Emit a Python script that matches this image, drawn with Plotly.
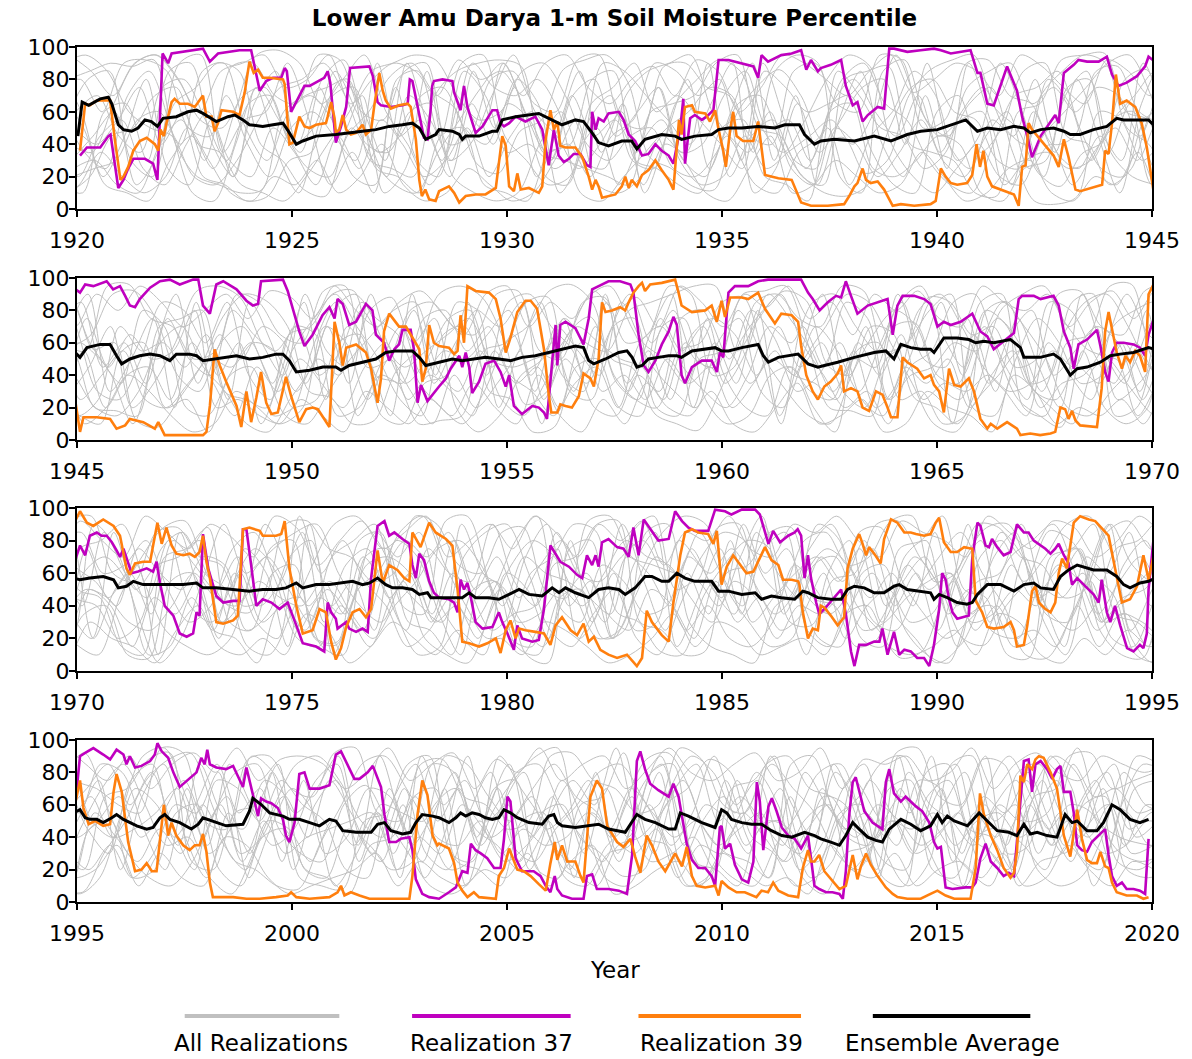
import plotly.graph_objects as go

FONT = "DejaVu Sans"
title_text = "Lower Amu Darya 1-m Soil Moisture Percentile"
x_title = "Year"
legend_labels = ["All Realizations", "Realization 37", "Realization 39", "Ensemble Average"]
panel_starts = [1920, 1945, 1970, 1995]
panel_span = 25
y_tick_vals = [0, 20, 40, 60, 80, 100]

COL_GRAY = "#c0c0c0"
COL_R37 = "#bf00bf"
COL_R39 = "#ff7f0e"
COL_ENS = "#000000"

# ---------------- Realization 37 (decimal year, percentile) ----------------
r37 = [(1920.07,33),(1920.23,38),(1920.54,38),(1920.73,45),(1920.78,46),(1920.96,13),(1921.08,18),(1921.19,25),(1921.31,31),(1921.58,31),(1921.77,28),(1921.87,18),(1921.99,96),(1922.12,90),(1922.2,96),(1922.47,97),(1922.93,99),(1923.09,91),(1923.28,96),(1923.78,98),(1924.05,98),(1924.25,73),(1924.4,79),(1924.56,81),(1924.75,81),(1924.83,87),(1924.88,85),(1924.98,60),(1925.14,68),(1925.29,76),(1925.41,76),(1925.6,79),(1925.75,81),(1925.83,85),(1925.89,78),(1926.02,41),(1926.14,51),(1926.26,63),(1926.35,87),(1926.8,88),(1926.88,82),(1926.99,66),(1927.07,64),(1927.3,63),(1927.57,64),(1927.69,65),(1927.74,80),(1927.8,79),(1928.07,44),(1928.15,43),(1928.22,60),(1928.26,76),(1928.3,79),(1928.5,80),(1928.73,79),(1928.77,72),(1928.92,61),(1929.0,76),(1929.08,63),(1929.27,47),(1929.43,51),(1929.66,61),(1929.77,61),(1929.85,53),(1929.93,51),(1930.05,53),(1930.2,57),(1930.43,54),(1930.66,57),(1930.82,49),(1930.97,27),(1931.09,49),(1931.2,33),(1931.32,29),(1931.44,31),(1931.55,34),(1931.71,34),(1931.86,27),(1931.94,26),(1931.98,60),(1932.06,49),(1932.13,56),(1932.25,54),(1932.36,59),(1932.6,60),(1932.71,55),(1932.83,46),(1932.98,42),(1933.14,33),(1933.29,34),(1933.45,40),(1933.6,36),(1933.76,33),(1933.87,28),(1934.03,50),(1934.1,68),(1934.14,28),(1934.26,56),(1934.37,58),(1934.53,55),(1934.64,57),(1934.8,61),(1934.92,92),(1935.15,92),(1935.46,90),(1935.73,88),(1935.84,81),(1935.92,95),(1936.07,91),(1936.38,95),(1936.62,96),(1936.84,98),(1936.96,86),(1937.07,92),(1937.23,85),(1937.3,87),(1937.53,89),(1937.77,92),(1937.88,76),(1938.04,64),(1938.15,66),(1938.27,54),(1938.39,58),(1938.62,63),(1938.77,62),(1938.89,99),(1939.0,99),(1939.31,97),(1939.62,98),(1939.93,99),(1940.09,98),(1940.32,96),(1940.78,98),(1940.86,91),(1940.94,84),(1941.01,84),(1941.17,65),(1941.32,64),(1941.63,88),(1941.86,73),(1941.98,57),(1942.1,45),(1942.21,32),(1942.41,45),(1942.64,54),(1942.75,58),(1942.83,53),(1942.95,84),(1943.18,89),(1943.29,92),(1943.49,91),(1943.76,91),(1943.95,94),(1944.07,83),(1944.22,76),(1944.41,78),(1944.65,82),(1944.84,88),(1944.92,94),
(1945.07,91),(1945.19,96),(1945.38,95),(1945.69,98),(1945.84,93),(1946.0,95),(1946.12,89),(1946.23,83),(1946.35,82),(1946.46,87),(1946.7,94),(1946.93,98),(1947.16,99),(1947.39,96),(1947.7,99),(1947.82,99),(1947.93,83),(1948.09,78),(1948.24,96),(1948.4,98),(1948.71,93),(1948.94,86),(1949.09,83),(1949.21,84),(1949.28,98),(1949.79,99),(1949.9,92),(1950.02,81),(1950.17,67),(1950.29,58),(1950.48,65),(1950.71,77),(1950.87,82),(1950.99,75),(1951.06,87),(1951.18,84),(1951.33,71),(1951.49,73),(1951.72,84),(1951.87,80),(1951.95,65),(1952.14,60),(1952.26,49),(1952.38,56),(1952.49,59),(1952.57,68),(1952.76,68),(1952.84,55),(1952.92,23),(1953.0,34),(1953.15,24),(1953.42,33),(1953.58,38),(1953.69,44),(1953.89,52),(1953.96,45),(1954.04,54),(1954.12,45),(1954.19,29),(1954.35,36),(1954.5,47),(1954.7,49),(1954.85,42),(1954.97,33),(1955.05,40),(1955.16,21),(1955.35,16),(1955.59,21),(1955.74,20),(1955.86,17),(1955.93,13),(1956.05,48),(1956.13,71),(1956.17,46),(1956.24,71),(1956.36,73),(1956.59,69),(1956.78,59),(1956.9,75),(1956.98,93),(1957.13,95),(1957.36,98),(1957.63,98),(1957.87,96),(1957.94,91),(1958.06,65),(1958.18,46),(1958.29,42),(1958.45,49),(1958.6,59),(1958.76,67),(1958.87,76),(1958.95,71),(1959.06,40),(1959.14,35),(1959.3,45),(1959.53,49),(1959.76,49),(1959.88,42),(1959.95,54),(1960.03,51),(1960.11,77),(1960.15,91),(1960.3,95),(1960.61,95),(1960.84,98),(1961.07,99),(1961.84,99),(1962.0,91),(1962.11,87),(1962.27,80),(1962.46,85),(1962.65,89),(1962.77,88),(1962.88,98),(1963.0,89),(1963.15,78),(1963.39,83),(1963.62,85),(1963.85,87),(1963.97,65),(1964.08,83),(1964.2,89),(1964.47,89),(1964.7,87),(1964.85,84),(1965.01,70),(1965.16,73),(1965.32,71),(1965.55,73),(1965.82,78),(1966.01,67),(1966.17,64),(1966.32,56),(1966.55,61),(1966.71,64),(1966.79,66),(1966.9,87),(1966.98,89),(1967.25,89),(1967.41,87),(1967.71,89),(1967.83,83),(1967.95,67),(1968.1,57),(1968.18,44),(1968.29,59),(1968.49,62),(1968.72,68),(1968.8,58),(1968.91,42),(1968.99,36),(1969.07,54),(1969.18,60),(1969.34,60),(1969.57,59),(1969.72,57),(1969.84,52),(1969.92,65),
(1970.07,77),(1970.19,71),(1970.3,83),(1970.46,85),(1970.57,83),(1970.69,83),(1970.81,79),(1970.92,74),(1971.0,70),(1971.08,75),(1971.19,67),(1971.27,60),(1971.42,61),(1971.62,63),(1971.77,61),(1971.85,67),(1971.93,54),(1972.04,40),(1972.24,34),(1972.39,23),(1972.55,21),(1972.7,23),(1972.78,36),(1972.85,34),(1972.93,84),(1973.05,63),(1973.24,46),(1973.4,42),(1973.63,43),(1973.78,43),(1973.86,87),(1973.94,87),(1974.05,65),(1974.17,40),(1974.32,44),(1974.52,42),(1974.71,38),(1974.9,42),(1975.1,28),(1975.25,17),(1975.56,15),(1975.75,12),(1975.83,42),(1975.91,36),(1976.02,32),(1976.06,26),(1976.26,30),(1976.33,26),(1976.49,24),(1976.64,26),(1976.76,24),(1976.84,57),(1976.99,89),(1977.15,92),(1977.26,83),(1977.38,85),(1977.57,81),(1977.73,78),(1977.8,65),(1977.88,57),(1977.96,72),(1978.07,68),(1978.19,55),(1978.3,48),(1978.42,45),(1978.65,44),(1978.77,42),(1978.85,36),(1978.92,56),(1979.0,50),(1979.08,54),(1979.16,45),(1979.27,30),(1979.43,26),(1979.66,27),(1979.81,36),(1979.89,30),(1980.01,23),(1980.16,13),(1980.24,28),(1980.35,20),(1980.59,18),(1980.74,19),(1980.86,38),(1981.01,77),(1981.13,72),(1981.24,67),(1981.44,64),(1981.63,59),(1981.75,57),(1981.86,71),(1981.98,65),(1982.06,71),(1982.13,64),(1982.21,79),(1982.36,81),(1982.56,76),(1982.71,75),(1982.83,70),(1982.94,88),(1983.06,71),(1983.18,93),(1983.33,87),(1983.52,80),(1983.76,81),(1983.91,98),(1984.07,92),(1984.22,88),(1984.37,86),(1984.68,86),(1984.84,99),(1985.07,98),(1985.22,96),(1985.46,99),(1985.77,99),(1985.88,96),(1986.08,78),(1986.19,86),(1986.35,79),(1986.54,83),(1986.69,85),(1986.76,87),(1986.84,83),(1986.92,57),(1987.0,71),(1987.07,57),(1987.19,42),(1987.26,35),(1987.38,38),(1987.57,44),(1987.77,50),(1987.88,35),(1988.0,12),(1988.08,3),(1988.19,16),(1988.35,16),(1988.54,18),(1988.66,18),(1988.73,26),(1988.85,10),(1989.0,24),(1989.12,10),(1989.24,13),(1989.39,12),(1989.54,8),(1989.7,8),(1989.82,3),(1989.93,16),(1990.05,38),(1990.12,60),(1990.2,56),(1990.28,44),(1990.36,36),(1990.47,32),(1990.74,34),(1990.82,69),(1990.94,91),(1991.01,89),(1991.13,77),(1991.21,76),(1991.28,81),(1991.4,76),(1991.55,71),(1991.71,73),(1991.86,90),(1992.02,85),(1992.13,85),(1992.25,80),(1992.37,78),(1992.52,75),(1992.64,72),(1992.75,75),(1992.83,78),(1992.95,71),(1993.06,66),(1993.14,53),(1993.26,57),(1993.41,53),(1993.64,47),(1993.76,42),(1993.83,56),(1993.95,36),(1994.03,30),(1994.14,40),(1994.26,28),(1994.42,14),(1994.57,12),(1994.72,16),(1994.8,14),(1994.88,23),(1994.92,50),
(1995.07,90),(1995.19,92),(1995.38,95),(1995.61,91),(1995.77,88),(1995.92,94),(1996.08,91),(1996.15,85),(1996.23,90),(1996.35,83),(1996.5,84),(1996.7,87),(1996.81,91),(1996.87,98),(1996.97,93),(1997.12,89),(1997.24,80),(1997.39,71),(1997.62,76),(1997.78,80),(1997.89,89),(1997.97,85),(1998.03,94),(1998.09,85),(1998.24,83),(1998.47,82),(1998.63,84),(1998.78,76),(1998.86,71),(1998.94,83),(1999.05,70),(1999.13,62),(1999.21,53),(1999.28,64),(1999.4,62),(1999.52,61),(1999.67,58),(1999.79,51),(1999.86,41),(1999.94,37),(2000.06,49),(2000.17,79),(2000.29,80),(2000.41,70),(2000.64,70),(2000.87,72),(2001.02,91),(2001.14,93),(2001.26,86),(2001.45,76),(2001.57,76),(2001.76,80),(2001.88,84),(2001.96,79),(2002.07,71),(2002.15,54),(2002.26,37),(2002.42,37),(2002.53,39),(2002.73,40),(2002.8,32),(2002.88,14),(2003.03,5),(2003.19,3),(2003.42,2),(2003.65,6),(2003.81,9),(2003.96,19),(2004.08,18),(2004.16,36),(2004.27,32),(2004.39,30),(2004.54,27),(2004.7,21),(2004.85,21),(2004.93,39),(2005.01,65),(2005.08,62),(2005.2,27),(2005.35,19),(2005.62,19),(2005.78,16),(2005.9,10),(2006.01,6),(2006.11,16),(2006.17,8),(2006.28,4),(2006.51,2),(2006.78,2),(2006.86,16),(2006.98,17),(2007.09,8),(2007.36,8),(2007.6,7),(2007.79,5),(2007.91,29),(2008.02,87),(2008.1,93),(2008.21,82),(2008.33,73),(2008.52,69),(2008.76,65),(2008.87,73),(2008.99,65),(2009.07,52),(2009.18,36),(2009.3,26),(2009.45,21),(2009.61,21),(2009.76,16),(2009.84,10),(2009.95,46),(2009.99,47),(2010.07,33),(2010.19,36),(2010.3,23),(2010.46,14),(2010.61,12),(2010.73,25),(2010.81,74),(2010.88,62),(2010.96,32),(2011.08,59),(2011.16,64),(2011.27,56),(2011.39,46),(2011.54,41),(2011.69,39),(2011.84,33),(2012.0,41),(2012.07,27),(2012.15,10),(2012.26,8),(2012.42,6),(2012.57,6),(2012.73,5),(2012.81,2),(2012.88,19),(2012.96,54),(2013.04,74),(2013.11,77),(2013.19,68),(2013.31,56),(2013.5,49),(2013.73,45),(2013.81,74),(2013.89,82),(2014.0,67),(2014.16,62),(2014.27,65),(2014.39,62),(2014.51,59),(2014.66,56),(2014.82,49),(2014.93,37),(2015.01,33),(2015.09,34),(2015.2,9),(2015.36,8),(2015.67,9),(2015.82,9),(2015.9,12),(2016.01,27),(2016.13,36),(2016.25,25),(2016.4,21),(2016.55,16),(2016.67,18),(2016.79,16),(2016.86,37),(2016.94,64),(2017.02,87),(2017.13,88),(2017.21,68),(2017.29,85),(2017.41,87),(2017.56,82),(2017.68,76),(2017.79,82),(2017.87,84),(2017.95,68),(2018.1,68),(2018.18,55),(2018.26,35),(2018.37,32),(2018.49,31),(2018.6,37),(2018.76,41),(2018.91,45),(2018.99,29),(2019.07,16),(2019.18,10),(2019.3,12),(2019.41,8),(2019.57,8),(2019.72,7),(2019.84,5),(2019.92,39)]

# ---------------- Realization 39 ----------------
r39 = [(1920.07,36),(1920.19,65),(1920.3,64),(1920.46,67),(1920.69,67),(1920.77,67),(1920.88,43),(1920.96,26),(1921.01,18),(1921.08,20),(1921.19,26),(1921.31,36),(1921.46,42),(1921.62,44),(1921.81,40),(1921.89,36),(1921.94,49),(1922.02,45),(1922.08,53),(1922.2,66),(1922.27,68),(1922.39,65),(1922.58,65),(1922.74,63),(1922.93,70),(1923.01,57),(1923.13,57),(1923.2,48),(1923.28,53),(1923.36,61),(1923.63,60),(1923.78,58),(1923.9,72),(1924.01,91),(1924.11,84),(1924.21,86),(1924.32,81),(1924.48,81),(1924.79,80),(1924.83,77),(1924.94,40),(1925.02,41),(1925.1,50),(1925.17,57),(1925.29,51),(1925.41,50),(1925.56,52),(1925.79,53),(1925.83,57),(1925.91,66),(1925.99,56),(1926.02,47),(1926.1,49),(1926.18,58),(1926.26,49),(1926.37,46),(1926.49,47),(1926.57,50),(1926.64,52),(1926.72,46),(1926.84,49),(1926.91,63),(1927.03,84),(1927.11,73),(1927.18,67),(1927.3,62),(1927.49,64),(1927.69,65),(1927.76,63),(1927.88,43),(1927.96,18),(1928.02,8),(1928.1,12),(1928.19,6),(1928.34,5),(1928.42,11),(1928.65,14),(1928.77,10),(1928.89,4),(1929.04,8),(1929.27,9),(1929.5,9),(1929.74,13),(1929.81,28),(1929.89,45),(1929.97,39),(1930.05,14),(1930.16,11),(1930.24,22),(1930.32,12),(1930.51,13),(1930.74,10),(1930.82,14),(1930.9,43),(1931.01,61),(1931.09,49),(1931.17,54),(1931.24,39),(1931.36,38),(1931.59,38),(1931.75,32),(1931.9,20),(1931.98,12),(1932.06,18),(1932.13,14),(1932.21,7),(1932.36,8),(1932.52,9),(1932.67,14),(1932.75,20),(1932.83,13),(1932.9,18),(1933.02,14),(1933.14,21),(1933.29,24),(1933.45,30),(1933.6,24),(1933.76,18),(1933.87,12),(1933.95,38),(1934.0,55),(1934.06,46),(1934.14,63),(1934.3,64),(1934.37,60),(1934.61,59),(1934.72,54),(1934.84,61),(1934.92,49),(1935.03,36),(1935.09,26),(1935.19,49),(1935.26,60),(1935.34,45),(1935.49,42),(1935.73,42),(1935.84,54),(1936.0,21),(1936.31,19),(1936.62,18),(1936.68,14),(1936.84,4),(1937.07,2),(1937.46,2),(1937.84,3),(1937.96,8),(1938.08,14),(1938.15,16),(1938.27,25),(1938.35,18),(1938.46,16),(1938.62,17),(1938.77,12),(1938.89,6),(1938.97,2),(1939.16,3),(1939.47,2),(1939.85,3),(1939.97,5),(1940.09,25),(1940.2,20),(1940.32,16),(1940.47,15),(1940.7,16),(1940.82,21),(1940.92,40),(1941.0,26),(1941.08,36),(1941.17,20),(1941.28,14),(1941.48,12),(1941.79,9),(1941.9,2),(1941.98,26),(1942.06,27),(1942.13,53),(1942.21,49),(1942.33,45),(1942.52,39),(1942.71,33),(1942.83,26),(1942.95,43),(1943.06,32),(1943.22,12),(1943.33,11),(1943.56,13),(1943.84,15),(1943.91,36),(1943.99,34),(1944.07,53),(1944.16,83),(1944.26,65),(1944.41,67),(1944.61,63),(1944.76,53),(1944.88,38),(1944.94,28),
(1945.07,5),(1945.15,14),(1945.46,14),(1945.77,13),(1945.92,7),(1946.12,9),(1946.23,13),(1946.54,11),(1946.81,7),(1946.89,11),(1947.04,3),(1947.39,3),(1947.93,3),(1948.01,5),(1948.09,21),(1948.2,56),(1948.32,46),(1948.47,36),(1948.71,21),(1948.82,8),(1948.94,30),(1949.05,11),(1949.17,26),(1949.28,42),(1949.4,23),(1949.52,16),(1949.67,17),(1949.86,39),(1949.98,27),(1950.17,11),(1950.33,19),(1950.48,20),(1950.6,19),(1950.75,13),(1950.87,8),(1950.99,73),(1951.1,60),(1951.18,46),(1951.26,57),(1951.49,59),(1951.72,54),(1951.84,44),(1951.99,23),(1952.07,38),(1952.14,67),(1952.26,78),(1952.49,70),(1952.65,70),(1952.8,63),(1952.96,56),(1953.03,36),(1953.11,44),(1953.19,71),(1953.3,60),(1953.42,58),(1953.65,57),(1953.77,53),(1953.85,55),(1953.92,77),(1954.0,60),(1954.08,95),(1954.27,92),(1954.58,91),(1954.74,87),(1954.85,75),(1954.97,54),(1955.08,63),(1955.24,79),(1955.43,86),(1955.55,86),(1955.7,81),(1955.86,56),(1955.97,28),(1956.03,17),(1956.17,17),(1956.24,22),(1956.36,21),(1956.51,20),(1956.67,27),(1956.78,41),(1956.94,38),(1957.02,33),(1957.13,50),(1957.21,85),(1957.29,79),(1957.44,80),(1957.63,82),(1957.75,80),(1957.83,85),(1957.94,91),(1958.06,95),(1958.14,97),(1958.21,92),(1958.33,96),(1958.6,97),(1958.91,99),(1958.99,91),(1959.06,83),(1959.3,79),(1959.61,80),(1959.76,83),(1959.88,73),(1959.99,86),(1960.07,76),(1960.19,88),(1960.46,88),(1960.61,87),(1960.84,91),(1961.0,81),(1961.23,72),(1961.38,78),(1961.62,77),(1961.77,73),(1961.84,58),(1961.96,40),(1962.11,30),(1962.23,25),(1962.38,33),(1962.53,36),(1962.69,41),(1962.77,46),(1962.84,30),(1963.0,32),(1963.15,30),(1963.27,20),(1963.42,18),(1963.58,30),(1963.73,28),(1963.85,20),(1963.93,14),(1964.08,14),(1964.2,51),(1964.31,48),(1964.54,44),(1964.7,38),(1964.85,40),(1964.93,34),(1965.05,30),(1965.16,17),(1965.28,44),(1965.4,34),(1965.55,33),(1965.74,38),(1965.86,30),(1966.01,13),(1966.17,7),(1966.25,10),(1966.4,7),(1966.63,11),(1966.86,7),(1966.94,3),(1967.17,4),(1967.4,3),(1967.64,4),(1967.75,5),(1967.87,20),(1967.98,19),(1968.06,13),(1968.14,18),(1968.22,12),(1968.33,9),(1968.72,8),(1968.83,32),(1968.91,67),(1968.99,79),(1969.11,63),(1969.18,54),(1969.3,44),(1969.38,52),(1969.49,48),(1969.61,55),(1969.72,52),(1969.84,42),(1969.92,90),
(1970.07,98),(1970.23,91),(1970.38,89),(1970.61,93),(1970.85,89),(1971.0,83),(1971.15,63),(1971.23,59),(1971.35,66),(1971.54,67),(1971.7,67),(1971.77,77),(1971.87,91),(1971.97,78),(1972.08,88),(1972.2,77),(1972.31,72),(1972.47,71),(1972.62,72),(1972.74,70),(1972.85,73),(1972.93,83),(1973.01,67),(1973.09,57),(1973.24,30),(1973.4,29),(1973.63,31),(1973.74,34),(1973.86,87),(1974.01,88),(1974.25,86),(1974.32,83),(1974.63,83),(1974.75,84),(1974.83,92),(1974.94,63),(1975.1,40),(1975.25,23),(1975.48,25),(1975.64,38),(1975.79,36),(1975.91,18),(1976.02,7),(1976.14,14),(1976.26,27),(1976.41,36),(1976.57,38),(1976.72,33),(1976.84,38),(1976.99,74),(1977.11,54),(1977.26,65),(1977.45,62),(1977.61,57),(1977.73,55),(1977.8,85),(1977.99,76),(1978.19,91),(1978.34,85),(1978.58,81),(1978.73,77),(1978.85,50),(1978.96,18),(1979.12,17),(1979.35,15),(1979.54,17),(1979.74,20),(1979.85,11),(1979.97,25),(1980.08,31),(1980.2,20),(1980.28,26),(1980.43,25),(1980.66,24),(1980.86,23),(1981.01,16),(1981.13,28),(1981.28,33),(1981.48,25),(1981.63,22),(1981.78,29),(1981.9,18),(1982.02,21),(1982.17,13),(1982.36,10),(1982.56,8),(1982.79,10),(1983.02,3),(1983.14,8),(1983.25,37),(1983.37,30),(1983.6,22),(1983.76,18),(1983.87,42),(1984.03,71),(1984.14,85),(1984.3,87),(1984.45,85),(1984.68,84),(1984.8,78),(1984.88,86),(1984.99,53),(1985.11,64),(1985.26,71),(1985.42,65),(1985.57,60),(1985.73,61),(1985.88,69),(1986.0,76),(1986.15,68),(1986.31,65),(1986.42,56),(1986.62,56),(1986.77,55),(1986.8,53),(1986.88,36),(1987.0,20),(1987.11,26),(1987.23,25),(1987.3,40),(1987.38,39),(1987.53,34),(1987.69,28),(1987.84,33),(1987.92,63),(1988.04,75),(1988.19,84),(1988.27,78),(1988.35,71),(1988.42,76),(1988.54,72),(1988.69,66),(1988.77,81),(1988.93,93),(1989.08,91),(1989.24,85),(1989.39,85),(1989.51,84),(1989.7,83),(1989.85,84),(1989.97,91),(1990.05,94),(1990.16,79),(1990.32,73),(1990.47,73),(1990.63,76),(1990.82,75),(1990.9,43),(1991.05,36),(1991.17,27),(1991.32,26),(1991.55,27),(1991.71,30),(1991.79,25),(1991.86,15),(1992.02,16),(1992.1,28),(1992.21,49),(1992.29,52),(1992.37,42),(1992.52,38),(1992.64,36),(1992.75,42),(1992.83,60),(1992.91,69),(1993.02,63),(1993.18,91),(1993.33,95),(1993.53,93),(1993.68,92),(1993.84,87),(1993.99,83),(1994.14,63),(1994.3,42),(1994.49,44),(1994.65,52),(1994.8,71),(1994.92,56),
(1995.07,75),(1995.15,58),(1995.27,48),(1995.42,50),(1995.61,47),(1995.77,48),(1995.85,68),(1995.92,79),(1996.04,68),(1996.19,37),(1996.35,19),(1996.5,20),(1996.62,24),(1996.74,19),(1996.85,19),(1996.93,39),(1997.02,60),(1997.12,41),(1997.2,49),(1997.31,41),(1997.47,35),(1997.62,32),(1997.74,35),(1997.85,35),(1997.93,42),(1998.01,31),(1998.09,12),(1998.16,3),(1998.63,3),(1998.94,2),(1999.25,2),(1999.63,3),(1999.9,4),(1999.98,6),(2000.1,3),(2000.41,2),(2000.87,3),(2001.06,6),(2001.14,10),(2001.22,4),(2001.37,6),(2001.57,4),(2001.8,2),(2002.73,2),(2002.8,16),(2002.92,54),(2003.03,75),(2003.15,66),(2003.27,41),(2003.38,35),(2003.42,36),(2003.65,33),(2003.77,24),(2003.85,12),(2003.96,7),(2004.08,3),(2004.23,6),(2004.35,3),(2004.74,2),(2004.81,16),(2004.93,21),(2005.05,33),(2005.12,28),(2005.24,20),(2005.39,19),(2005.55,16),(2005.74,11),(2005.9,7),(2006.01,24),(2006.11,37),(2006.17,26),(2006.28,35),(2006.4,25),(2006.59,25),(2006.71,16),(2006.78,12),(2006.86,39),(2006.94,65),(2007.09,75),(2007.21,70),(2007.33,47),(2007.4,44),(2007.56,37),(2007.71,34),(2007.87,39),(2007.98,28),(2008.1,18),(2008.25,41),(2008.37,35),(2008.52,25),(2008.68,19),(2008.91,30),(2009.07,22),(2009.18,34),(2009.3,16),(2009.41,10),(2009.61,9),(2009.84,10),(2009.92,4),(2009.99,13),(2010.15,9),(2010.34,6),(2010.53,6),(2010.8,3),(2010.92,7),(2011.07,6),(2011.19,12),(2011.31,7),(2011.54,4),(2011.77,3),(2011.88,21),(2012.0,32),(2012.07,25),(2012.15,25),(2012.26,29),(2012.38,19),(2012.53,14),(2012.73,8),(2012.88,10),(2013.04,29),(2013.15,14),(2013.23,22),(2013.35,30),(2013.46,23),(2013.62,16),(2013.81,9),(2013.97,5),(2014.08,3),(2014.31,2),(2014.62,2),(2014.85,5),(2015.01,7),(2015.2,4),(2015.4,2),(2015.78,2),(2015.9,21),(2016.0,67),(2016.09,54),(2016.25,41),(2016.4,32),(2016.55,21),(2016.71,15),(2016.79,18),(2016.86,31),(2016.94,78),(2017.02,74),(2017.1,85),(2017.21,82),(2017.29,88),(2017.37,90),(2017.48,89),(2017.64,80),(2017.79,70),(2017.95,41),(2018.1,28),(2018.26,57),(2018.37,39),(2018.49,26),(2018.6,24),(2018.72,24),(2018.8,31),(2018.91,22),(2018.99,21),(2019.07,12),(2019.18,6),(2019.41,4),(2019.65,4),(2019.8,2),(2019.92,3)]

# ---------------- Ensemble average ----------------
ens = [(1920.02,45),(1920.12,66),(1920.27,64),(1920.54,68),(1920.73,69),(1920.81,65),(1920.96,52),(1921.08,49),(1921.27,48),(1921.42,50),(1921.58,55),(1921.73,54),(1921.87,51),(1922.0,56),(1922.31,57),(1922.58,60),(1922.78,61),(1922.93,59),(1923.24,54),(1923.51,57),(1923.67,58),(1923.86,55),(1924.01,52),(1924.32,51),(1924.56,52),(1924.79,53),(1924.94,47),(1925.1,40),(1925.25,42),(1925.56,45),(1926.02,46),(1926.41,47),(1926.64,48),(1926.95,49),(1927.26,51),(1927.57,52),(1927.8,53),(1927.96,50),(1928.11,43),(1928.34,46),(1928.42,49),(1928.73,48),(1928.89,46),(1928.96,43),(1929.04,45),(1929.35,45),(1929.66,48),(1929.77,48),(1929.89,55),(1930.2,57),(1930.51,58),(1930.74,59),(1930.97,56),(1931.28,52),(1931.59,55),(1931.78,54),(1931.98,47),(1932.13,41),(1932.36,39),(1932.67,42),(1932.9,42),(1933.02,37),(1933.21,43),(1933.6,46),(1933.91,45),(1934.06,43),(1934.37,45),(1934.76,46),(1934.92,49),(1935.15,50),(1935.46,50),(1935.84,51),(1936.23,50),(1936.46,52),(1936.8,52),(1936.92,46),(1937.15,40),(1937.3,42),(1937.61,43),(1938.08,42),(1938.54,45),(1938.93,42),(1939.31,46),(1939.62,48),(1940.01,49),(1940.32,52),(1940.67,55),(1940.94,48),(1941.17,50),(1941.48,49),(1941.79,51),(1942.02,50),(1942.17,47),(1942.41,49),(1942.71,50),(1942.95,48),(1943.1,46),(1943.33,46),(1943.64,49),(1943.95,51),(1944.18,56),(1944.34,55),(1944.65,55),(1944.92,55),
(1945.07,51),(1945.23,57),(1945.54,59),(1945.77,59),(1945.92,52),(1946.04,47),(1946.23,50),(1946.46,52),(1946.7,53),(1946.93,52),(1947.16,49),(1947.31,53),(1947.62,53),(1947.78,52),(1947.93,49),(1948.16,50),(1948.4,51),(1948.71,52),(1949.01,50),(1949.32,51),(1949.63,53),(1949.79,53),(1949.94,49),(1950.1,42),(1950.41,43),(1950.72,45),(1951.02,45),(1951.14,43),(1951.33,46),(1951.64,48),(1951.95,50),(1952.18,54),(1952.42,55),(1952.8,55),(1952.96,51),(1953.11,46),(1953.42,48),(1953.73,50),(1953.96,49),(1954.19,50),(1954.5,51),(1954.81,50),(1955.08,49),(1955.35,51),(1955.66,52),(1955.97,54),(1956.28,56),(1956.59,58),(1956.78,57),(1956.9,49),(1957.02,47),(1957.29,50),(1957.6,54),(1957.79,55),(1957.91,51),(1958.02,45),(1958.14,46),(1958.29,50),(1958.52,51),(1958.76,52),(1958.95,52),(1959.06,51),(1959.3,55),(1959.61,56),(1959.84,57),(1959.99,55),(1960.15,55),(1960.46,57),(1960.69,58),(1960.84,59),(1960.96,52),(1961.08,48),(1961.31,51),(1961.54,52),(1961.77,53),(1962.0,47),(1962.23,45),(1962.38,46),(1962.69,48),(1963.08,51),(1963.54,54),(1963.81,55),(1964.0,50),(1964.16,59),(1964.39,57),(1964.62,56),(1964.85,56),(1964.93,54),(1965.16,63),(1965.47,63),(1965.74,62),(1965.9,60),(1966.09,61),(1966.32,60),(1966.71,62),(1966.94,57),(1967.02,51),(1967.4,51),(1967.71,53),(1967.87,50),(1968.1,40),(1968.26,44),(1968.49,45),(1968.8,48),(1969.03,52),(1969.26,53),(1969.57,54),(1969.92,57),
(1970.07,56),(1970.3,57),(1970.61,58),(1970.85,56),(1970.96,51),(1971.15,52),(1971.31,55),(1971.54,53),(1971.85,53),(1972.16,53),(1972.47,53),(1972.78,54),(1972.93,51),(1973.24,51),(1973.63,50),(1974.01,49),(1974.32,50),(1974.63,50),(1974.86,51),(1975.1,54),(1975.25,51),(1975.56,53),(1975.87,53),(1976.18,54),(1976.41,55),(1976.64,53),(1976.8,54),(1976.99,57),(1977.18,53),(1977.34,51),(1977.57,51),(1977.8,50),(1977.96,47),(1978.15,48),(1978.23,45),(1978.42,45),(1978.73,45),(1978.96,45),(1979.12,48),(1979.27,45),(1979.58,45),(1979.81,44),(1980.05,47),(1980.28,50),(1980.51,47),(1980.82,46),(1981.05,51),(1981.21,48),(1981.36,51),(1981.59,48),(1981.9,45),(1982.13,50),(1982.36,51),(1982.6,50),(1982.75,47),(1982.98,51),(1983.21,58),(1983.37,58),(1983.6,55),(1983.76,55),(1983.95,60),(1984.14,57),(1984.37,55),(1984.76,55),(1984.92,49),(1985.15,49),(1985.46,47),(1985.77,48),(1985.92,44),(1986.15,46),(1986.38,45),(1986.69,44),(1986.88,49),(1987.0,48),(1987.23,45),(1987.53,44),(1987.77,44),(1987.92,50),(1988.08,52),(1988.31,51),(1988.54,48),(1988.77,48),(1989.0,52),(1989.12,53),(1989.31,50),(1989.62,49),(1989.85,48),(1989.93,44),(1990.05,47),(1990.24,45),(1990.47,42),(1990.7,41),(1990.82,42),(1990.94,47),(1991.17,53),(1991.48,53),(1991.79,49),(1992.02,53),(1992.25,54),(1992.41,51),(1992.71,50),(1992.87,58),(1993.06,62),(1993.26,65),(1993.49,63),(1993.64,62),(1993.95,62),(1994.18,58),(1994.34,53),(1994.49,51),(1994.72,54),(1994.92,55),
(1995.07,57),(1995.19,52),(1995.3,51),(1995.46,51),(1995.61,49),(1995.81,52),(1995.92,54),(1996.08,51),(1996.39,47),(1996.62,45),(1996.77,46),(1996.93,52),(1997.04,54),(1997.16,51),(1997.39,49),(1997.66,45),(1997.82,48),(1997.93,52),(1998.16,50),(1998.47,47),(1998.86,48),(1999.01,56),(1999.09,64),(1999.29,60),(1999.48,55),(1999.79,53),(1999.94,51),(2000.17,51),(2000.41,49),(2000.64,47),(2000.87,51),(2001.02,50),(2001.18,44),(2001.49,43),(2001.84,43),(2001.99,48),(2002.15,49),(2002.3,44),(2002.57,42),(2002.76,43),(2002.88,49),(2003.03,54),(2003.27,53),(2003.42,52),(2003.65,49),(2003.81,52),(2003.92,55),(2004.04,53),(2004.19,55),(2004.35,54),(2004.5,52),(2004.66,51),(2004.81,52),(2004.93,57),(2005.08,55),(2005.24,52),(2005.51,49),(2005.82,48),(2005.97,53),(2006.09,54),(2006.17,49),(2006.28,47),(2006.59,46),(2006.9,47),(2007.13,48),(2007.36,45),(2007.52,44),(2007.75,43),(2007.87,48),(2008.02,54),(2008.21,51),(2008.45,49),(2008.76,45),(2008.91,45),(2009.03,55),(2009.22,53),(2009.53,49),(2009.84,46),(2009.99,57),(2010.11,55),(2010.22,51),(2010.46,49),(2010.69,48),(2010.92,48),(2011.15,44),(2011.39,41),(2011.62,40),(2011.92,43),(2012.15,41),(2012.3,39),(2012.53,37),(2012.73,35),(2012.88,41),(2013.04,49),(2013.19,45),(2013.39,40),(2013.58,38),(2013.73,37),(2013.89,45),(2014.16,51),(2014.39,48),(2014.62,44),(2014.85,47),(2015.01,54),(2015.12,49),(2015.24,53),(2015.4,50),(2015.71,47),(2015.98,55),(2016.17,50),(2016.4,44),(2016.67,43),(2016.86,41),(2017.02,48),(2017.17,42),(2017.33,43),(2017.56,41),(2017.79,40),(2017.98,54),(2018.14,49),(2018.26,50),(2018.49,44),(2018.72,44),(2018.87,49),(2019.07,60),(2019.26,57),(2019.49,51),(2019.72,49),(2019.92,51)]

# ---------------- Other realizations (half-yearly estimates) ----------------
gray_start = 1919.75
gray_step = 0.5025
gray_offsets = [0.0, 0.05, -0.05, 0.1, -0.1, 0.15, -0.15, 0.2, -0.2, 0.08, -0.08, 0.12,
                0.03, -0.12, 0.17, -0.17, 0.22, -0.22]

gray_01 = [55,80,85,30,20,65,75,90,85,40,30,12,8,45,60,82,90,72,62,28,
22,48,55,86,92,95,78,32,25,14,12,58,76,86,70,42,44,22,30,70,
86,92,95,62,50,22,14,34,42,80,86,56,60,12,8,26,46,76,90,86,
70,30,26,10,12,42,56,90,95,88,62,22,30,66,76,50,44,16,10,6,
30,62,80,92,86,46,40,70,66,26,20,10,36,80,90,95,72,56,50,32,
16,10,46,70,88,92,60,40,36,76,80,20,16,50,62,86,95,66,40,20,
26,60,70,90,86,36,30,12,10,46,66,80,76,30,28,56,60,90,92,70,
50,20,16,40,56,86,80,60,46,10,6,30,50,76,88,92,60,26,20,10,
8,36,60,86,90,70,46,20,26,56,76,90,95,40,30,16,20,60,70,88,
80,40,30,10,16,50,66,86,90,60,36,20,10,46,70,90,80,50,40,36,34]
gray_02 = [10,20,45,50,70,75,40,35,15,10,5,20,40,60,85,90,95,92,70,55,
60,85,90,70,40,30,45,50,25,20,35,65,70,40,20,10,8,15,50,75,
80,60,55,30,25,70,85,95,90,50,40,20,15,30,60,70,45,30,10,5,
25,45,80,90,75,65,35,20,10,30,60,70,92,96,85,40,25,20,55,60,
85,88,50,30,15,10,40,65,80,70,35,25,60,85,70,50,20,15,30,45,
75,80,90,55,25,15,10,20,60,75,85,90,60,40,30,55,20,10,5,35,
65,80,70,45,20,25,60,85,95,90,50,30,15,20,65,70,40,25,8,12,
45,70,88,90,60,35,25,40,75,80,92,60,30,15,10,25,55,80,85,45,
30,25,60,72,50,30,10,5,15,45,80,85,60,40,25,60,88,92,70,30,
15,10,35,55,80,85,50,25,20,65,75,40,30,15,55,75,30,20,60,85,80]
gray_03 = [90,95,85,60,50,45,20,15,30,55,75,80,90,70,40,35,60,65,20,10,
5,10,40,60,30,25,70,85,90,95,60,40,15,10,35,45,80,90,65,55,
30,15,10,40,70,75,85,50,25,20,55,65,90,92,75,40,30,60,70,45,
15,10,30,50,65,80,85,45,30,55,25,15,35,60,88,95,70,45,30,20,
60,75,30,20,50,70,90,85,60,35,10,5,25,40,55,30,65,85,90,70,
45,40,20,30,75,85,60,50,15,10,35,65,90,95,80,55,40,30,70,85,
90,60,25,15,35,50,20,10,40,70,85,80,55,45,75,90,60,30,25,50,
70,85,60,40,10,8,30,55,20,15,45,70,85,60,35,40,15,5,30,60,
85,90,75,50,40,70,30,20,55,80,35,25,45,60,80,85,65,40,10,15,
40,60,85,70,55,30,20,45,65,40,15,10,70,90,65,35,55,75,25,20,30]
gray_04 = [40,35,65,90,95,80,55,50,70,75,45,25,20,50,30,15,10,35,55,75,
90,60,20,15,55,70,30,25,65,80,92,85,50,35,55,80,95,88,40,20,
10,25,40,20,15,45,60,75,90,95,70,30,25,50,85,80,60,85,40,25,
55,75,90,70,50,25,15,65,70,40,85,90,70,55,20,15,40,30,75,80,
40,20,15,45,30,25,55,20,35,80,90,70,45,30,15,60,40,25,70,80,
85,60,65,80,50,30,40,75,85,55,20,15,40,25,60,80,70,85,50,25,
35,40,85,60,55,70,80,55,25,40,20,15,30,65,50,30,85,88,55,35,
20,30,45,70,80,90,60,25,40,55,70,85,60,80,45,20,75,70,50,75,
60,50,20,15,70,40,85,80,45,35,20,40,75,50,15,10,35,70,90,80,
55,80,60,20,35,70,85,30,10,25,85,90,50,60,20,10,15,40,80,60,55]
gray_05 = [70,50,15,10,5,30,45,25,60,95,98,90,65,80,95,60,40,15,40,90,
75,70,80,60,10,5,20,35,50,60,75,70,35,85,95,90,20,10,85,92,
55,45,65,75,35,5,3,8,60,55,30,45,70,20,35,60,92,95,88,60,
40,90,55,45,80,88,60,75,20,5,15,40,50,75,60,55,80,85,90,95,
95,55,75,90,60,40,20,30,10,45,55,85,90,55,25,15,8,55,20,10,
20,90,75,35,5,20,55,90,60,70,50,30,70,80,90,35,10,15,90,60,
50,10,5,75,80,20,45,70,60,85,60,40,75,85,25,15,40,60,35,20,
5,15,70,80,55,70,90,95,75,20,5,15,55,90,95,65,35,85,60,35,
45,75,85,25,60,55,50,90,85,65,50,65,35,20,10,35,40,55,75,45,
30,25,15,85,90,55,40,60,50,35,45,60,90,30,35,90,70,10,45,90,85]
gray_06 = [20,25,30,55,60,40,85,90,50,30,60,70,55,20,15,80,85,45,90,95,
45,30,15,20,65,75,90,60,70,55,40,25,85,75,60,65,70,35,15,10,
60,70,35,50,85,90,45,40,15,25,60,50,35,80,70,20,15,40,60,35,
70,65,15,20,40,35,75,80,55,70,40,30,15,35,45,20,60,70,45,30,
20,40,70,60,85,90,70,55,85,95,65,45,80,70,35,40,85,90,15,20,
60,70,55,10,15,45,25,60,30,20,95,60,80,55,40,15,25,45,30,50,
80,95,40,30,65,55,35,40,70,60,75,55,35,50,90,80,20,15,70,80,
35,50,25,20,25,15,40,15,35,30,20,35,15,30,60,55,80,30,40,65,
20,15,45,35,20,25,60,70,35,90,70,50,20,15,35,45,25,30,40,20,
75,50,70,35,65,60,25,75,55,90,25,55,40,80,85,55,45,30,35,50,45]
gray_07 = [85,60,20,45,80,25,15,55,20,65,85,40,75,45,70,10,25,85,30,40,
70,95,60,45,25,40,60,15,40,35,90,20,45,55,30,25,85,70,50,45,
25,35,75,85,90,65,75,60,75,70,45,75,45,65,50,55,80,20,25,15,
10,20,70,60,25,50,30,10,40,20,35,55,85,40,30,90,35,55,25,65,
75,65,40,70,45,60,30,20,50,60,80,90,20,15,50,75,60,35,40,60,
35,20,85,50,65,70,80,30,45,90,65,40,55,35,20,40,55,75,80,65,
40,70,60,55,45,35,85,95,50,55,40,70,95,35,60,75,65,45,60,40,
85,40,55,60,90,45,15,70,60,85,40,50,65,40,55,75,50,65,15,45,
70,55,10,30,55,15,90,60,75,50,60,20,55,75,60,95,50,80,25,50,
65,35,50,45,15,25,75,55,35,75,70,30,65,55,75,45,60,55,20,70,75]
gray_08 = [50,40,55,75,40,60,30,70,40,20,50,60,45,30,90,45,55,30,85,70,
35,40,30,70,45,55,35,75,30,15,20,45,25,35,45,55,40,60,95,65,
45,55,60,15,30,35,25,30,55,60,25,40,55,25,20,35,50,45,60,55,
30,50,40,80,60,45,55,65,75,50,45,50,55,70,60,50,45,25,60,45,
55,35,50,40,35,25,60,40,65,25,35,30,40,30,35,55,45,70,25,35,
50,45,30,25,40,60,45,40,55,45,40,55,35,65,70,60,30,60,45,55,
30,35,50,40,60,80,70,65,45,30,55,45,20,40,35,45,25,30,45,55,
60,30,35,50,40,65,55,30,45,50,65,40,45,55,70,35,60,25,50,30,
40,45,50,55,30,65,40,35,50,30,45,35,40,55,45,70,55,40,50,35,
45,55,25,50,60,40,35,50,45,55,35,50,55,40,50,30,45,60,55,35,40]
gray_09 = [5,15,35,20,10,20,50,30,10,5,20,15,30,10,20,40,15,5,10,25,
15,5,10,30,55,15,10,20,45,30,10,5,25,45,10,15,30,20,10,15,
35,20,5,10,25,30,10,5,20,15,35,10,20,40,30,15,5,10,30,20,
10,25,15,5,30,20,10,25,15,35,20,10,40,15,5,25,10,35,20,15,
30,10,5,20,35,10,15,25,5,10,30,20,15,5,40,30,10,20,15,25,
10,30,20,15,5,25,40,15,10,20,10,35,25,5,15,30,20,10,25,15,
20,10,30,25,15,5,10,20,35,15,30,25,10,15,20,10,35,40,15,10,
15,25,10,35,30,10,5,20,10,25,15,20,35,10,30,15,10,40,35,15,
5,10,15,20,30,10,25,15,10,20,15,30,10,25,35,5,10,20,25,10,
30,20,10,15,5,35,20,15,30,10,20,25,15,30,10,15,35,20,10,25,20]
gray_10 = [95,85,70,90,95,80,60,85,90,95,75,80,95,65,80,90,85,70,92,80,
85,70,90,95,75,65,80,88,70,92,85,60,75,95,90,80,70,85,95,72,
80,90,85,70,95,88,75,65,92,85,70,90,80,95,85,70,80,90,75,92,
88,75,95,80,70,85,92,78,65,90,95,70,85,75,92,80,88,70,95,85,
70,90,82,95,75,85,65,90,80,92,75,70,95,85,80,90,70,85,92,75,
92,80,70,95,85,75,90,82,70,95,88,65,80,92,75,85,95,70,80,90,
75,95,85,70,90,80,92,65,85,80,95,75,70,90,85,95,80,70,92,85,
80,70,95,85,75,92,88,70,80,95,85,75,90,70,85,92,80,95,75,88,
90,85,70,80,95,75,85,92,70,88,80,95,75,85,90,70,82,95,80,75,
85,92,75,80,95,70,88,85,90,75,80,95,70,85,92,80,75,90,85,80,85]
gray_11 = [60,35,25,70,85,50,10,5,40,75,55,35,80,92,50,20,70,55,30,85,
50,80,65,10,35,90,85,70,55,40,65,90,10,25,65,35,55,75,80,40,
90,40,25,55,45,80,35,25,45,30,90,60,40,10,55,90,35,65,50,70,
60,35,70,35,90,55,80,40,85,80,70,85,25,50,35,65,90,60,80,50,
45,80,55,10,70,45,85,75,25,40,45,60,55,75,60,20,35,40,60,90,
65,55,40,75,60,50,70,65,25,35,70,80,10,45,85,70,85,40,20,10,
60,50,20,80,30,60,25,30,80,65,45,90,60,75,45,35,50,75,40,60,
25,60,80,25,70,35,30,60,90,65,55,85,80,45,20,70,30,45,90,80,
55,70,90,40,25,60,15,45,90,40,50,70,85,65,55,25,70,85,35,60,
50,30,90,60,40,80,60,15,70,45,60,80,35,20,60,35,85,65,70,55,60]
gray_12 = [30,45,60,15,35,90,95,35,55,60,90,55,15,35,10,75,30,20,65,50,
90,60,35,40,20,45,55,90,85,70,80,30,90,55,25,50,15,45,60,85,
70,30,45,90,60,20,70,85,35,65,15,25,70,55,60,45,65,25,85,60,
20,60,85,15,45,70,40,55,50,65,80,40,60,30,70,35,25,75,55,70,
35,55,90,75,55,30,50,45,90,55,85,40,70,45,25,85,80,55,35,60,
40,85,60,45,80,40,30,55,75,60,25,45,35,70,50,25,75,60,55,90,
55,40,75,20,40,90,55,25,60,35,80,30,45,60,70,55,75,30,55,70,
45,90,30,65,45,60,75,35,55,70,45,30,75,85,40,60,85,55,70,25,
75,30,40,70,65,35,55,80,40,70,25,55,60,30,70,40,60,35,55,90,
60,75,40,30,70,45,55,40,80,60,50,35,60,75,30,55,40,70,35,60,55]
gray_13 = [80,85,90,88,92,40,20,15,10,12,60,70,75,80,30,25,20,70,85,90,
92,88,35,30,25,20,15,60,65,70,90,95,50,45,20,15,80,85,88,40,
35,30,10,8,60,65,92,95,96,60,55,20,18,15,70,75,80,30,25,20,
65,70,90,92,40,35,10,12,15,55,60,85,88,30,25,70,75,20,15,50,
55,90,92,95,60,20,18,15,70,72,40,35,85,90,20,15,60,65,95,96,
50,45,15,10,70,75,88,30,25,60,65,20,18,80,85,40,35,92,95,55,
20,15,65,70,90,92,30,25,10,12,60,65,85,88,45,40,15,20,75,80,
95,50,45,10,8,70,75,90,35,30,20,65,70,88,92,25,20,55,60,85,
15,10,8,50,55,85,90,30,25,70,75,20,15,60,65,92,40,35,10,15,
70,75,90,30,25,55,60,15,10,80,85,45,40,20,65,70,95,50,30,25,30]
gray_14 = [15,10,60,65,30,85,90,40,20,75,35,10,55,80,60,30,90,50,20,65,
40,75,20,50,85,35,65,10,45,80,25,60,90,30,70,15,55,85,40,20,
70,25,90,55,15,60,35,80,45,10,65,90,30,50,75,20,85,40,60,10,
45,85,25,70,50,15,90,35,60,80,20,55,10,75,40,85,30,65,90,20,
60,35,80,15,55,90,40,70,25,50,85,10,65,30,75,45,20,90,55,35,
80,20,50,65,10,85,45,30,75,60,15,90,40,55,25,80,70,35,10,60,
30,70,90,40,55,20,65,85,15,45,75,35,90,50,10,60,80,25,45,70,
55,15,40,85,70,30,10,60,90,25,50,75,20,65,85,40,15,55,30,80,
20,60,75,35,90,50,25,70,10,55,85,40,65,15,80,30,60,90,45,20,
75,40,15,65,30,85,55,20,90,45,70,10,60,35,80,50,25,65,85,40,50]
gray_15 = [25,30,15,10,40,55,20,15,5,8,30,35,70,75,25,20,10,45,50,15,
10,5,35,40,80,85,30,25,15,10,50,55,20,15,5,60,65,25,20,30,
45,40,10,5,25,30,75,80,35,20,15,10,55,60,20,25,5,40,45,15,
20,25,60,65,15,10,35,40,85,30,25,5,8,45,50,20,15,70,75,25,
10,15,40,45,20,5,55,60,25,30,10,15,80,85,35,20,10,45,50,15,
35,40,10,8,55,60,25,20,5,40,45,15,10,70,75,30,25,10,50,55,
15,10,45,50,20,25,85,90,30,15,10,5,40,45,20,15,60,65,25,10,
5,35,40,15,20,70,75,25,10,8,45,50,15,20,55,60,20,10,40,45,
20,15,5,35,40,65,70,25,20,10,50,55,15,10,30,35,80,85,25,20,
10,45,50,15,5,30,35,70,75,20,15,40,45,10,25,30,60,65,20,15,20]
gray_16 = [75,80,60,90,92,85,50,45,88,90,70,65,95,92,60,55,85,90,40,45,
80,85,65,60,92,95,55,50,88,90,75,70,45,40,85,90,65,60,95,92,
50,55,90,92,70,65,40,45,85,88,60,55,95,96,75,70,50,55,90,85,
65,60,92,95,45,50,80,85,70,65,90,92,55,50,85,88,60,65,95,90,
40,45,85,90,75,70,95,92,55,60,88,85,65,70,45,50,90,92,70,65,
92,95,60,55,85,88,70,65,40,45,90,92,75,70,55,60,95,90,65,60,
85,88,50,45,92,95,70,65,60,55,88,90,45,50,80,85,65,70,92,95,
55,60,90,88,70,65,45,50,85,92,75,70,60,55,95,92,50,45,88,90,
70,65,92,95,55,50,85,88,65,60,45,50,90,92,75,70,55,60,95,88,
60,55,85,90,70,65,45,40,92,95,65,60,88,85,50,55,90,92,70,75,80]
gray_17 = [60,70,45,35,75,80,55,30,65,70,40,50,85,60,35,45,70,75,50,40,
65,55,30,70,80,45,60,75,35,40,70,85,50,55,30,65,80,60,45,70,
35,60,75,50,40,80,65,30,55,70,85,45,60,35,75,50,40,80,65,55,
70,40,55,85,60,35,50,75,80,45,65,30,70,55,40,85,60,50,35,75,
50,80,65,40,70,55,30,60,85,50,45,75,35,65,80,40,55,70,60,30,
75,45,60,35,80,65,50,70,40,55,85,30,65,75,45,60,35,80,50,70,
45,65,80,55,30,70,60,40,75,50,35,85,60,45,70,55,80,40,65,50,
60,35,70,85,45,55,75,30,65,80,50,40,70,60,35,85,55,45,75,65,
40,75,55,30,65,85,50,70,35,60,80,45,55,75,40,65,30,70,85,50,
65,50,35,80,60,45,75,55,30,70,85,40,60,50,75,35,65,80,45,55,60]
gray_18 = [35,20,45,55,25,15,40,60,30,20,50,35,15,45,25,55,40,20,30,50,
20,45,60,25,35,50,15,40,55,30,20,45,35,60,25,15,50,40,20,35,
55,30,20,45,60,25,40,15,35,50,30,55,20,40,45,25,60,35,15,45,
30,50,35,20,45,60,25,40,30,15,55,35,45,20,60,30,40,25,50,35,
45,20,35,55,30,40,60,25,15,45,35,50,20,40,55,30,25,45,35,60,
25,50,40,15,45,35,55,20,60,30,40,25,50,35,15,45,60,30,40,20,
50,30,15,45,60,35,25,50,40,20,55,30,45,25,35,60,20,40,50,30,
35,55,25,40,20,50,45,60,30,35,15,55,40,25,45,30,60,35,20,50,
45,25,50,35,55,20,40,30,60,45,25,35,50,20,55,40,30,45,15,35,
30,55,40,25,45,60,20,35,50,30,40,55,25,45,35,20,50,40,60,30,35]
gray_lines = [gray_01, gray_02, gray_03, gray_04, gray_05, gray_06,
              gray_07, gray_08, gray_09, gray_10, gray_11, gray_12,
              gray_13, gray_14, gray_15, gray_16, gray_17, gray_18]

# ---------------- layout geometry ----------------
W, H = 1192, 1059
margin = dict(l=77, r=37, t=47, b=157)
y_domains = [(0.8105, 1.0), (0.5404, 0.7298), (0.2702, 0.4608), (0.0, 0.1895)]


def window(xs, ys, start):
    ox, oy = [], []
    for x, y in zip(xs, ys):
        if start - 1.0 <= x <= start + panel_span + 1.0:
            ox.append(x)
            oy.append(y)
    return ox, oy


fig = go.Figure()
for i, start in enumerate(panel_starts):
    n = i + 1
    xa = "x" if n == 1 else f"x{n}"
    ya = "y" if n == 1 else f"y{n}"
    for off, g in zip(gray_offsets, gray_lines):
        xs = [gray_start + off + gray_step * k for k in range(len(g))]
        gx, gy = window(xs, g, start)
        fig.add_trace(go.Scatter(x=gx, y=gy, mode="lines",
                                 line=dict(color=COL_GRAY, width=1, shape="spline", smoothing=0.9),
                                 xaxis=xa, yaxis=ya, hoverinfo="skip", showlegend=False))
    for series, color, width in [(r37, COL_R37, 2.6), (r39, COL_R39, 2.6), (ens, COL_ENS, 3.0)]:
        sx, sy = window([p[0] for p in series], [p[1] for p in series], start)
        fig.add_trace(go.Scatter(x=sx, y=sy, mode="lines",
                                 line=dict(color=color, width=width),
                                 xaxis=xa, yaxis=ya, showlegend=False))

    axis_common = dict(showline=True, linecolor="black", linewidth=2, mirror=True,
                       ticks="outside", ticklen=6, tickwidth=2, tickcolor="black",
                       showgrid=False, zeroline=False,
                       tickfont=dict(family=FONT, size=22, color="black"))
    xkey = "xaxis" if n == 1 else f"xaxis{n}"
    ykey = "yaxis" if n == 1 else f"yaxis{n}"
    fig.layout[xkey] = dict(domain=[0, 1], anchor=ya, range=[start, start + panel_span],
                            tickmode="array",
                            tickvals=list(range(start, start + panel_span + 1, 5)),
                            ticklabelstandoff=5, **axis_common)
    fig.layout[ykey] = dict(domain=list(y_domains[i]), anchor=xa, range=[0, 100],
                            tickmode="array", tickvals=y_tick_vals,
                            ticklabelstandoff=-5, **axis_common)

# ---------------- legend (drawn below the panels) ----------------
legend_colors = [COL_GRAY, COL_R37, COL_R39, COL_ENS]
legend_line_x = [(0.1002, 0.244), (0.3117, 0.4592), (0.5223, 0.6735), (0.7403, 0.8868)]
legend_text_x = [0.1716, 0.3859, 0.5993, 0.8145]
shapes = []
annotations = []
for col, (x0, x1), tx, lab in zip(legend_colors, legend_line_x, legend_text_x, legend_labels):
    shapes.append(dict(type="line", xref="paper", yref="paper", x0=x0, x1=x1,
                       y0=-0.1333, y1=-0.1333, line=dict(color=col, width=4)))
    annotations.append(dict(text=lab, xref="paper", yref="paper", x=tx, y=-0.1649,
                            xanchor="center", yanchor="middle", showarrow=False,
                            font=dict(family=FONT, size=23, color="black")))
annotations.append(dict(text=x_title, xref="paper", yref="paper", x=0.5, y=-0.0795,
                        xanchor="center", yanchor="middle", showarrow=False,
                        font=dict(family=FONT, size=23, color="black")))

fig.update_layout(
    width=W, height=H, margin=margin,
    paper_bgcolor="white", plot_bgcolor="white",
    title=dict(text="<b>" + title_text + "</b>", x=0.5, xref="paper",
               y=1 - 18 / H, yref="container", xanchor="center", yanchor="middle",
               font=dict(family=FONT, size=23, color="black")),
    shapes=shapes, annotations=annotations, showlegend=False,
)

fig.write_html("out.html")
